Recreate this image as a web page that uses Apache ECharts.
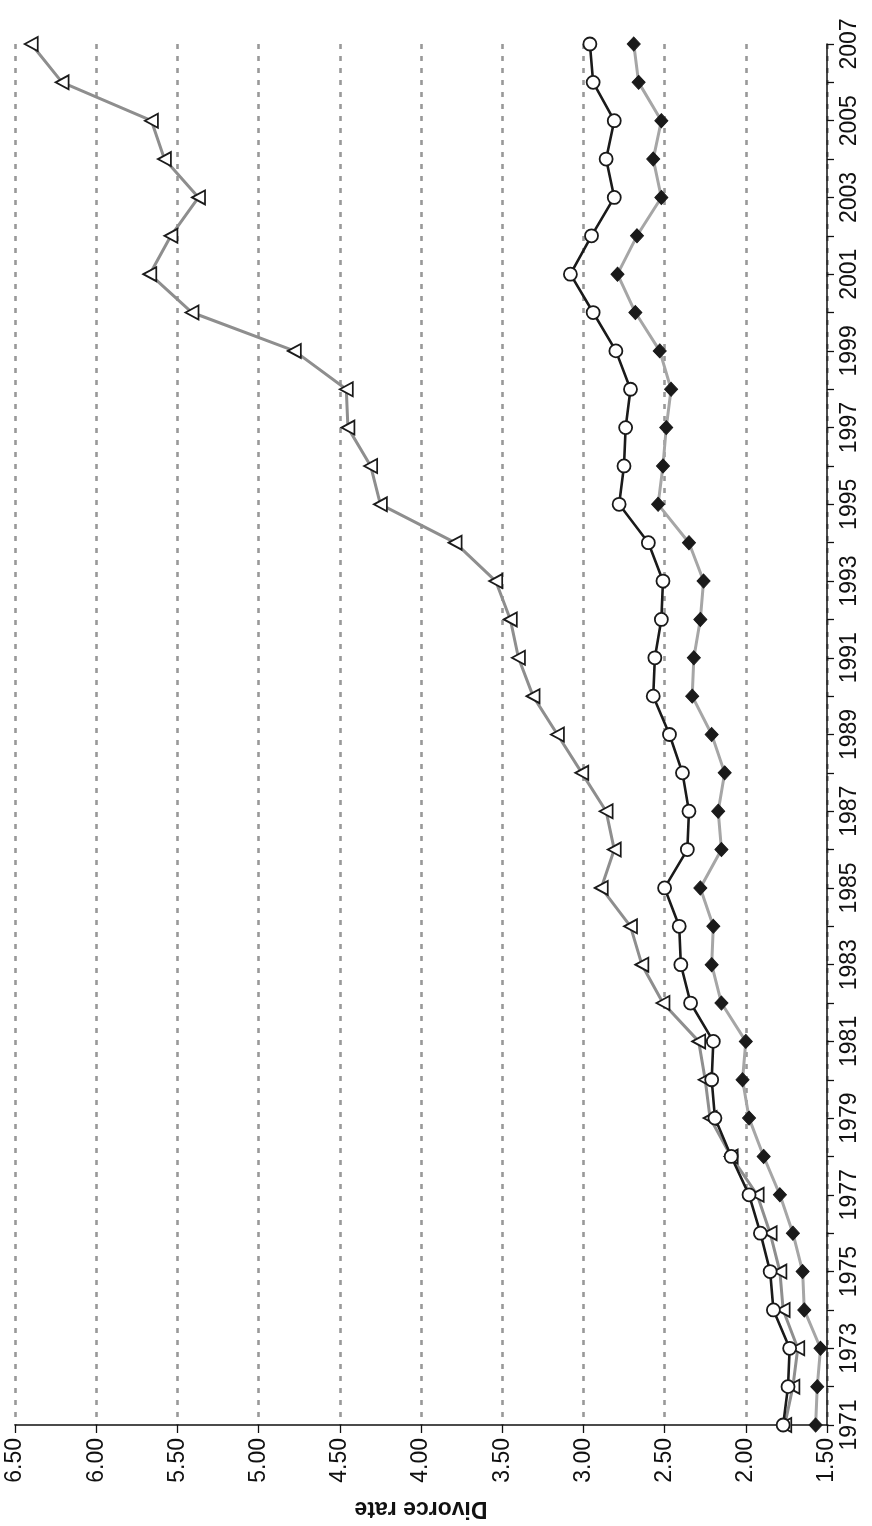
<!DOCTYPE html>
<html><head><meta charset="utf-8">
<script src="https://cdn.jsdelivr.net/npm/echarts@6/dist/echarts.min.js"></script>
<style>html,body{margin:0;padding:0;background:#fff}#c{width:872px;height:1526px}</style>
</head><body><div id="c"></div>
<script>
const years = ['1971','1972','1973','1974','1975','1976','1977','1978','1979','1980','1981','1982','1983','1984','1985','1986','1987','1988','1989','1990','1991','1992','1993','1994','1995','1996','1997','1998','1999','2000','2001','2002','2003','2004','2005','2006','2007'];
const triangleRates = [1.76,1.71,1.68,1.77,1.79,1.85,1.93,2.09,2.22,2.25,2.29,2.51,2.64,2.71,2.89,2.81,2.86,3.01,3.16,3.31,3.40,3.45,3.54,3.79,4.25,4.31,4.45,4.46,4.78,5.41,5.67,5.54,5.37,5.58,5.66,6.21,6.40];
const circleRates = [1.77,1.74,1.73,1.83,1.85,1.91,1.98,2.09,2.19,2.21,2.20,2.34,2.40,2.41,2.50,2.36,2.35,2.39,2.47,2.57,2.56,2.52,2.51,2.60,2.78,2.75,2.74,2.71,2.80,2.94,3.08,2.95,2.81,2.86,2.81,2.94,2.96];
const diamondRates = [1.57,1.56,1.54,1.64,1.65,1.71,1.79,1.89,1.98,2.02,2.00,2.15,2.21,2.20,2.28,2.15,2.17,2.13,2.21,2.33,2.32,2.28,2.26,2.35,2.54,2.51,2.49,2.46,2.53,2.68,2.79,2.67,2.52,2.57,2.52,2.66,2.69];
const rateMin = 1.5, rateMax = 6.5, rateStep = 0.5;
const axisTitle = 'Divorce rate';

const chart = echarts.init(document.getElementById('c'), null, {renderer:'canvas'});
const font = 'Liberation Sans, Arial, Helvetica, sans-serif';
chart.setOption({
  animation:false,
  backgroundColor:'#fff',
  grid:{left:15,right:45,top:44,bottom:101,containLabel:false},
  xAxis:{
    type:'value', inverse:true, min:rateMin, max:rateMax, interval:rateStep,
    position:'bottom',
    name:axisTitle, nameLocation:'middle', nameGap:72, nameRotate:180,
    nameTextStyle:{fontFamily:font, fontWeight:'bold', fontSize:23, color:'#111'},
    axisLine:{show:true, lineStyle:{color:'#111', width:1.5}},
    axisTick:{show:true, length:8, lineStyle:{color:'#111', width:1.3}},
    axisLabel:{rotate:90, margin:13, fontFamily:font, fontSize:23, color:'#111',
      formatter:v=>v.toFixed(2)},
    splitLine:{show:true, lineStyle:{color:'#999', width:2.6, type:[5,7]}}
  },
  yAxis:{
    type:'category', data:years, boundaryGap:false, position:'right',
    axisLine:{show:true, lineStyle:{color:'#111', width:1.5}},
    axisTick:{show:true, interval:0, length:7, lineStyle:{color:'#111', width:1.3}},
    axisLabel:{interval:1, rotate:90, margin:11, fontFamily:font, fontSize:23, color:'#111'},
    splitLine:{show:false}
  },
  series:[
    {type:'line', name:'Triangle series', data:triangleRates, symbol:'triangle', symbolSize:[14,13], symbolRotate:90,
      lineStyle:{color:'#8e8e8e', width:3}, itemStyle:{color:'#fff', borderColor:'#1a1a1a', borderWidth:1.8}, z:2},
    {type:'line', name:'Diamond series', data:diamondRates, symbol:'diamond', symbolSize:[13,14],
      lineStyle:{color:'#a6a6a6', width:3}, itemStyle:{color:'#1a1a1a', borderColor:'#1a1a1a', borderWidth:1}, z:3},
    {type:'line', name:'Circle series', data:circleRates, symbol:'circle', symbolSize:13,
      lineStyle:{color:'#1a1a1a', width:2.6}, itemStyle:{color:'#fff', borderColor:'#1a1a1a', borderWidth:1.8}, z:4}
  ]
});
</script></body></html>
